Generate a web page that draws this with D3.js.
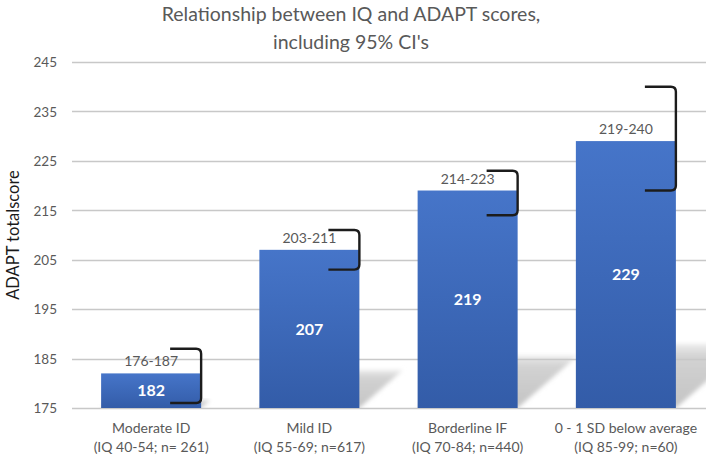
<!DOCTYPE html>
<html>
<head>
<meta charset="utf-8">
<script src="https://cdn.jsdelivr.net/npm/d3@7"></script>
<style>
  html, body { margin: 0; padding: 0; background: #fff; }
  svg { display: block; font-family: Lato, "Open Sans", sans-serif; }
</style>
</head>
<body>
<svg id="chart" width="709" height="457"></svg>
<script>
// ---- data ----
const categories = ["Moderate ID", "Mild ID", "Borderline IF", "0 - 1 SD below average"];
const subLabels = ["(IQ 40-54; n= 261)", "(IQ 55-69; n=617)", "(IQ 70-84; n=440)", "(IQ 85-99; n=60)"];
const means = [182, 207, 219, 229];
const ciLow = [176, 203, 214, 219];
const ciHigh = [187, 211, 223, 240];
const yTicks = [175, 185, 195, 205, 215, 225, 235, 245];
const titleLines = ["Relationship between IQ and ADAPT scores,", "including 95% CI's"];
const yTitle = "ADAPT totalscore";

// ---- layout ----
const plotL = 72, plotR = 706, plotT = 62, plotB = 408;
const svg = d3.select("#chart");

const x = d3.scaleBand().domain(categories).range([plotL, plotR - 1]).paddingInner(0.368).paddingOuter(0.184);
const y = d3.scaleLinear().domain([175, 245]).range([plotB, plotT]);

const defs = svg.append("defs");
const grad = defs.append("linearGradient").attr("id", "barGrad")
  .attr("x1", 0).attr("y1", 0).attr("x2", 0).attr("y2", 1);
grad.append("stop").attr("offset", "0%").attr("stop-color", "#4675c9");
grad.append("stop").attr("offset", "100%").attr("stop-color", "#335ca8");

const sgrad = defs.append("linearGradient").attr("id", "shGrad")
  .attr("x1", 0).attr("y1", 1).attr("x2", 0).attr("y2", 0);
sgrad.append("stop").attr("offset", "0%").attr("stop-color", "#c4c4c4");
sgrad.append("stop").attr("offset", "80%").attr("stop-color", "#d2d2d2");
sgrad.append("stop").attr("offset", "100%").attr("stop-color", "#ececec");

const blur = defs.append("filter").attr("id", "blur").attr("x", "-20%").attr("y", "-20%").attr("width", "140%").attr("height", "140%");
blur.append("feGaussianBlur").attr("stdDeviation", 2.2);

defs.append("clipPath").attr("id", "plotClip").append("rect")
  .attr("x", plotL).attr("y", plotT).attr("width", plotR - plotL).attr("height", plotB - plotT);

// ---- title ----
svg.append("g").selectAll("text").data(titleLines).join("text")
  .attr("x", 351).attr("y", (d, i) => 21 + i * 28)
  .attr("text-anchor", "middle")
  .attr("font-size", 19.5)
  .attr("fill", "#595959")
  .text(d => d);

// ---- shadows ----
svg.append("g").attr("clip-path", "url(#plotClip)")
  .selectAll("path").data(means).join("path")
  .attr("d", (d, i) => {
    const x0 = x(categories[i]), x1 = x0 + x.bandwidth();
    const h = 0.24 * (y(175) - y(d));
    const dx = h * 1.15;
    const b = y(175);
    return `M${x0},${b}L${x1},${b}L${x1 + dx},${b - h}L${x0 + dx},${b - h}Z`;
  })
  .attr("fill", "url(#shGrad)")
  .attr("filter", "url(#blur)");

// ---- gridlines ----
svg.append("g").selectAll("line").data(yTicks).join("line")
  .attr("x1", plotL).attr("x2", plotR)
  .attr("y1", d => Math.round(y(d)) + 0.5).attr("y2", d => Math.round(y(d)) + 0.5)
  .attr("stroke", "#c8c8c8").attr("stroke-width", 1.3);

// ---- y axis ----
const yAxis = d3.axisLeft(y).tickValues(yTicks).tickSize(0).tickPadding(0);
const gy = svg.append("g").attr("transform", `translate(57,0)`).call(yAxis);
gy.select(".domain").remove();
gy.selectAll("text").attr("font-size", 13.5).attr("fill", "#595959").attr("font-family", "Lato, sans-serif").attr("dy", "0.35em");

svg.append("text")
  .attr("transform", `translate(19,${(plotT + plotB) / 2}) rotate(-90)`)
  .attr("text-anchor", "middle")
  .attr("font-size", 16.5)
  .attr("fill", "#1a1a1a")
  .text(yTitle);

// ---- bars ----
svg.append("g").selectAll("rect").data(means).join("rect")
  .attr("x", (d, i) => x(categories[i]))
  .attr("width", x.bandwidth())
  .attr("y", d => y(d))
  .attr("height", d => y(175) - y(d))
  .attr("fill", "url(#barGrad)");

// value labels
svg.append("g").selectAll("text").data(means).join("text")
  .attr("x", (d, i) => x(categories[i]) + x.bandwidth() / 2)
  .attr("y", d => (y(d) + y(175)) / 2)
  .attr("dy", "0.36em")
  .attr("text-anchor", "middle")
  .attr("font-size", 16)
  .attr("font-weight", "bold")
  .attr("fill", "#ffffff")
  .text(d => d);

// range labels
svg.append("g").selectAll("text").data(means).join("text")
  .attr("x", (d, i) => x(categories[i]) + x.bandwidth() / 2)
  .attr("y", d => y(d) - 7)
  .attr("text-anchor", "middle")
  .attr("font-size", 14)
  .attr("fill", "#595959")
  .text((d, i) => `${ciLow[i]}-${ciHigh[i]}`);

// CI brackets
const arm = 31, r = 5;
svg.append("g").selectAll("path").data(means).join("path")
  .attr("d", (d, i) => {
    const xv = x(categories[i]) + x.bandwidth();
    const yt = y(ciHigh[i]), yb = y(ciLow[i]);
    return `M${xv - arm},${yt}L${xv - r},${yt}Q${xv},${yt} ${xv},${yt + r}` +
           `L${xv},${yb - r}Q${xv},${yb} ${xv - r},${yb}L${xv - arm},${yb}`;
  })
  .attr("fill", "none")
  .attr("stroke", "#1c1c1c")
  .attr("stroke-width", 2.4);

// ---- x labels ----
const gx = svg.append("g");
categories.forEach((c, i) => {
  const cx = x(c) + x.bandwidth() / 2;
  gx.append("text").attr("x", cx).attr("y", 433).attr("text-anchor", "middle")
    .attr("font-size", 14).attr("fill", "#595959").text(c);
  gx.append("text").attr("x", cx).attr("y", 452).attr("text-anchor", "middle")
    .attr("font-size", 14).attr("fill", "#595959").text(subLabels[i]);
});
</script>
</body>
</html>
